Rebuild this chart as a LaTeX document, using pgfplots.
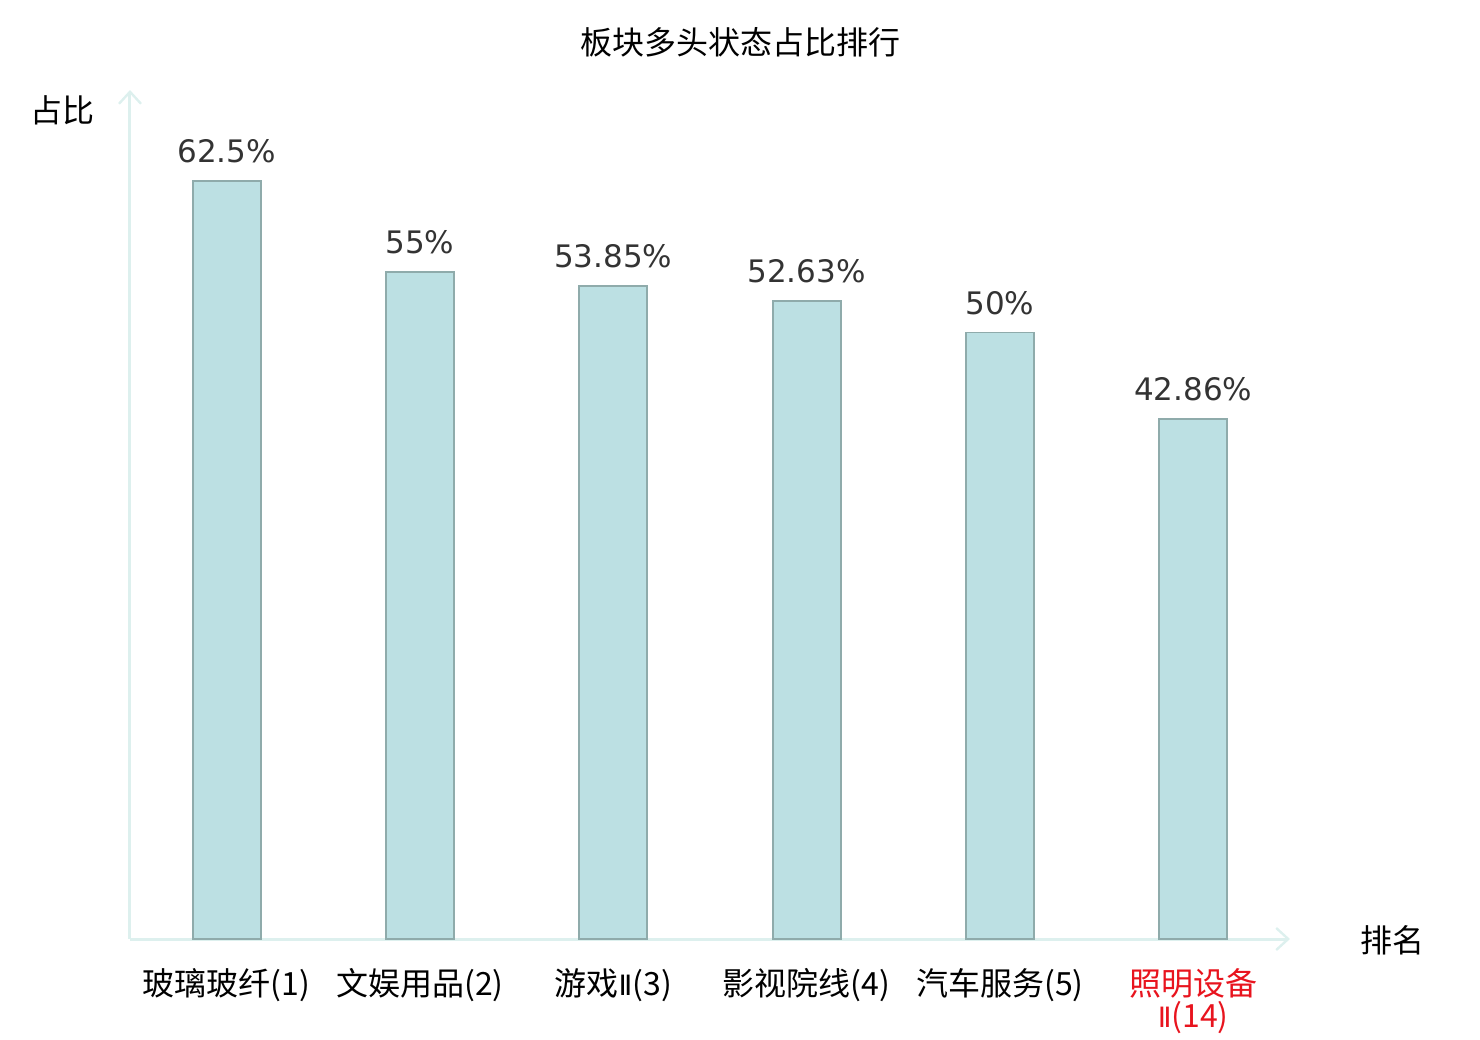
\documentclass[border=0pt]{standalone}
\usepackage{fontspec}
\setmainfont{DejaVu Sans}
\newfontfamily\cjk{Noto Sans CJK SC}
\newfontfamily\dv{DejaVu Sans}
\usepackage{pgfplots}
\pgfplotsset{compat=1.18}
\usetikzlibrary{arrows.meta}
\definecolor{barfill}{HTML}{BCE0E3}
\definecolor{baredge}{HTML}{8FABAB}
\definecolor{axcol}{HTML}{DDF0EE}
\definecolor{lblcol}{HTML}{333333}
\definecolor{redlbl}{HTML}{E8141E}
\newcommand{\RII}{{\dv\fontsize{14pt}{16pt}\selectfont Ⅱ}}
\begin{document}
\begin{tikzpicture}
\begin{axis}[
  at={(65pt,50.5pt)}, anchor=south west,
  scale only axis, width=580pt, height=424.5pt,
  xmin=-0.5, xmax=5.5, ymin=0, ymax=70,
  enlargelimits=false,
  axis x line=bottom, axis y line=left,
  axis line style={draw=axcol, line width=1.5pt, -{Straight Barb[length=6pt,width=11pt,line width=1.2pt]}},
  ytick=\empty,
  xtick={0,1,2,3,4,5},
  xticklabels={玻璃玻纤(1),文娱用品(2),游戏\RII(3),影视院线(4),汽车服务(5),{{\color{redlbl}照明设备}\\{\color{redlbl}\RII(14)}}},
  major tick length=0pt,
  xticklabel style={font=\cjk\fontsize{16pt}{16pt}\selectfont, align=center, inner sep=0pt, yshift=-14.5pt, anchor=north},
  ybar, bar width=34pt,
  title={\cjk 板块多头状态占比排行},
  every axis title shift=0pt,
  title style={font=\fontsize{16pt}{18pt}\selectfont, at={(rel axis cs:0.5259,1.0565)}, anchor=center, yshift=0pt, inner sep=0pt},
  ylabel={占比}, xlabel={排名},
  every axis y label/.style={at={(rel axis cs:-0.0578,0.976)}, anchor=center, font=\cjk\fontsize{16pt}{17pt}\selectfont},
  every axis x label/.style={at={(rel axis cs:1.088,-0.002)}, anchor=center, font=\cjk\fontsize{16pt}{17pt}\selectfont},
  nodes near coords={\pgfplotspointmeta\%},
  point meta=explicit symbolic,
  every node near coord/.append style={inner sep=0pt, yshift=8.5pt, text=lblcol, font=\fontsize{15.5pt}{16pt}\selectfont},
]
\addplot[fill=barfill, draw=baredge, line width=0.9pt] coordinates {
  (0,62.5) [62.5]
  (1,55) [55]
  (2,53.85) [53.85]
  (3,52.63) [52.63]
  (4,50) [50]
  (5,42.86) [42.86]
};
\end{axis}
\pgfresetboundingbox
\path[use as bounding box] (0,0) rectangle (740pt,520pt);
\end{tikzpicture}
\end{document}
